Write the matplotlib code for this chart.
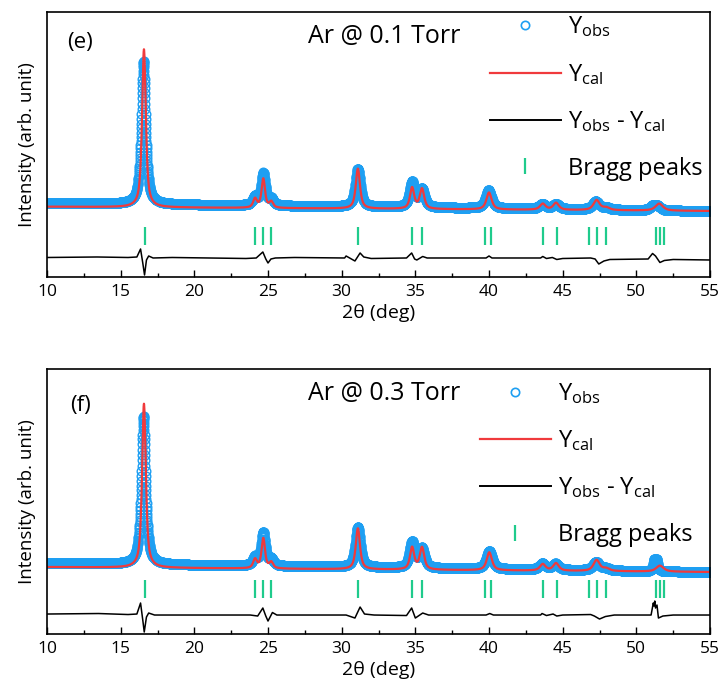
import numpy as np
import matplotlib

matplotlib.use("Agg")
import matplotlib.pyplot as plt
from matplotlib.lines import Line2D
from matplotlib.ticker import MultipleLocator

plt.rcParams["font.family"] = ["Open Sans", "DejaVu Sans"]
plt.rcParams["mathtext.fontset"] = "custom"
plt.rcParams["mathtext.rm"] = "Open Sans"
plt.rcParams["mathtext.it"] = "Open Sans:italic"

# ---- data (y in arbitrary units, same scale for both panels)
X_MIN, X_MAX, STEP = 10.0, 55.0, 0.01

# panel (e): Ar @ 0.1 Torr
e_base_obs = (74.0, 66.0)          # background at 10 deg and 55 deg
e_base_cal = (70.3, 66.0)
e_obs_pos = [16.55, 24.12, 24.68, 25.22, 31.10, 34.78, 35.45, 39.97, 43.62, 44.55, 47.25, 47.95, 51.10, 51.45]
e_obs_h = [143, 8, 32, 6, 38, 25, 18, 18, 5, 5, 8, 2, 4, 4]
e_obs_w = [0.36, 0.36, 0.34, 0.36, 0.40, 0.40, 0.42, 0.48, 0.50, 0.50, 0.55, 0.55, 0.40, 0.45]
e_cal_pos = [16.58, 24.12, 24.68, 25.22, 31.10, 34.78, 35.45, 40.00, 43.65, 44.55, 47.30, 47.95, 51.55]
e_cal_h = [158, 9, 29, 6, 40, 21, 20, 17, 6, 7, 10, 2.5, 7]
e_cal_w = [0.30, 0.30, 0.28, 0.30, 0.34, 0.34, 0.36, 0.42, 0.45, 0.45, 0.50, 0.55, 0.60]
e_diff_x = [10, 13.4, 15.5, 16.1, 16.35, 16.5, 16.62, 16.75, 16.9, 17.2, 18.5, 23.5, 24.2, 24.65,
            24.85, 25.0, 25.2, 25.5, 26.8, 30.2, 30.3, 30.9, 31.25, 31.5, 32.0, 34.4, 34.75, 34.95,
            35.1, 35.5, 35.8, 39.8, 40.0, 40.2, 43.5, 43.65, 43.9, 44.3, 44.6, 45.0, 46.9, 47.2,
            47.45, 47.8, 48.2, 50.8, 51.1, 51.3, 51.6, 51.9, 52.5, 55]
e_diff_y = [19.5, 20, 19.5, 20, 28, 14, 2, 17, 21, 19, 19.5, 18.5, 19, 25,
            18, 14, 18, 19, 19.5, 19, 21, 16, 24, 20, 18.5, 19, 24, 18,
            17, 20.5, 19, 19, 21, 19, 19, 20.5, 18.5, 19.5, 17.5, 18.5, 19, 18,
            13, 16, 17.5, 18, 23.5, 21, 14.5, 16.5, 17.5, 17]

# panel (f): Ar @ 0.3 Torr
f_base_obs = (71.0, 62.0)
f_base_cal = (67.0, 62.0)
f_obs_pos = [16.55, 24.12, 24.68, 25.22, 31.10, 34.78, 35.45, 40.02, 43.62, 44.52, 47.28, 47.95, 51.22, 51.38]
f_obs_h = [148, 8, 33, 6, 40, 26, 19, 18, 6, 6, 8.5, 2, 10, 10]
f_obs_w = [0.36, 0.36, 0.34, 0.36, 0.40, 0.40, 0.42, 0.48, 0.50, 0.50, 0.55, 0.55, 0.18, 0.18]
f_cal_pos = [16.58, 24.12, 24.68, 25.22, 31.10, 34.78, 35.45, 40.02, 43.65, 44.55, 47.30, 47.95, 51.60]
f_cal_h = [164, 9, 30, 6, 41, 22, 22, 18, 6.5, 7.5, 11, 2.5, 6]
f_cal_w = [0.30, 0.30, 0.28, 0.30, 0.34, 0.34, 0.36, 0.42, 0.45, 0.45, 0.50, 0.55, 0.60]
f_diff_x = [10, 13.5, 15.5, 16.1, 16.35, 16.5, 16.6, 16.75, 16.9, 17.3, 19.5, 23.8, 24.3, 24.65,
            24.85, 25.0, 25.3, 25.6, 27.3, 30.3, 30.9, 31.25, 31.55, 32.2, 34.4, 34.75, 35.0,
            35.5, 35.9, 39.8, 40.05, 40.3, 43.5, 43.6, 43.9, 44.35, 44.6, 45.0, 46.9, 47.15,
            47.5, 47.9, 48.5, 51.0, 51.15, 51.2, 51.25, 51.3, 51.4, 51.5, 51.8, 52.5, 55]
f_diff_y = [20, 20.5, 19.5, 20, 31, 14, 2, 17, 21, 19, 19, 19, 18, 26,
            18, 13, 21.5, 19, 19, 19, 16, 27, 20, 19, 18.5, 26, 16,
            21, 19, 19, 20.5, 19, 19, 20.5, 18.5, 20, 18, 19, 19.5, 18,
            15, 17.5, 19, 19, 31, 28, 33, 26, 29, 16, 18, 19, 19]

# Bragg reflections (same phase in both panels)
bragg_pos = [16.62, 24.12, 24.64, 25.19, 31.13, 34.76, 35.48, 39.76, 40.14,
             43.69, 44.60, 46.80, 47.34, 47.93, 51.34, 51.62, 51.89]

panels = [
    dict(tag="(e)", title="Ar @ 0.1 Torr", base_obs=e_base_obs, base_cal=e_base_cal,
         obs=(e_obs_pos, e_obs_h, e_obs_w), cal=(e_cal_pos, e_cal_h, e_cal_w),
         diff=(e_diff_x, e_diff_y), bragg_y=40.5, leg=(0.668, 0.99), tag_y=0.883),
    dict(tag="(f)", title="Ar @ 0.3 Torr", base_obs=f_base_obs, base_cal=f_base_cal,
         obs=(f_obs_pos, f_obs_h, f_obs_w), cal=(f_cal_pos, f_cal_h, f_cal_w),
         diff=(f_diff_x, f_diff_y), bragg_y=45.0, leg=(0.653, 0.955), tag_y=0.864),
]

OBS_C = "#1e9ff2"
CAL_C = "#f03a3c"
BRAGG_C = "#1fcb8c"


def profile(x, base, peaks, eta=0.75):
    pos, h, w = peaks
    y = base[0] + (base[1] - base[0]) * (x - X_MIN) / (X_MAX - X_MIN)
    for p, a, fw in zip(pos, h, w):
        u = (x - p) / (fw / 2)
        y = y + a * (eta / (1 + u ** 2) + (1 - eta) * np.exp(-np.log(2) * u ** 2))
    return y


x = np.arange(X_MIN, X_MAX + STEP / 2, STEP)

fig = plt.figure(figsize=(7.22, 6.93), dpi=100)
ax_pos = [[0.0651, 0.6003, 0.9183, 0.3824], [0.0651, 0.0851, 0.9183, 0.3824]]

for pan, pos in zip(panels, ax_pos):
    ax = fig.add_axes(pos)
    y_obs = profile(x, pan["base_obs"], pan["obs"])
    y_cal = profile(x, pan["base_cal"], pan["cal"])

    ax.plot(x, y_obs, ls="none", marker="o", ms=6.2, mfc="none", mec=OBS_C, mew=1.0)
    ax.plot(x, y_cal, color=CAL_C, lw=1.6)
    ax.plot(pan["diff"][0], pan["diff"][1], color="black", lw=1.1)
    ax.plot(bragg_pos, [pan["bragg_y"]] * len(bragg_pos), ls="none", marker="|",
            ms=13, mew=1.6, color=BRAGG_C)

    ax.set_xlim(X_MIN, X_MAX)
    ax.set_ylim(0, 265)
    ax.set_yticks([])
    ax.xaxis.set_major_locator(MultipleLocator(5))
    ax.xaxis.set_minor_locator(MultipleLocator(2.5))
    ax.tick_params(axis="x", which="both", direction="in", labelsize=12.5, pad=5)
    ax.tick_params(axis="x", which="major", length=5, width=1)
    ax.tick_params(axis="x", which="minor", length=3, width=1)
    for s in ax.spines.values():
        s.set_linewidth(1.2)
    ax.set_xlabel("2θ (deg)", fontsize=14, labelpad=3)
    ax.set_ylabel("Intensity (arb. unit)", fontsize=13.5, labelpad=8)

    ax.text(0.05, pan["tag_y"], pan["tag"], transform=ax.transAxes, fontsize=16,
            va="center", ha="center")
    ax.text(0.394, 0.906, pan["title"], transform=ax.transAxes, fontsize=18, va="center")

    handles = [
        Line2D([], [], ls="none", marker="o", ms=6, mfc="none", mec=OBS_C, mew=1.2),
        Line2D([], [], color=CAL_C, lw=1.6),
        Line2D([], [], color="black", lw=1.4),
        Line2D([], [], ls="none", marker="|", ms=12, mew=1.6, color=BRAGG_C),
    ]
    labels = ["Y$_{\\mathrm{obs}}$", "Y$_{\\mathrm{cal}}$",
              "Y$_{\\mathrm{obs}}$ - Y$_{\\mathrm{cal}}$", "Bragg peaks"]
    ax.legend(handles, labels, loc="upper left", bbox_to_anchor=pan["leg"],
              frameon=False, fontsize=17, handlelength=3.0, handletextpad=0.3,
              labelspacing=0.95, borderpad=0, borderaxespad=0)

fig.savefig("out.png", dpi=100)
